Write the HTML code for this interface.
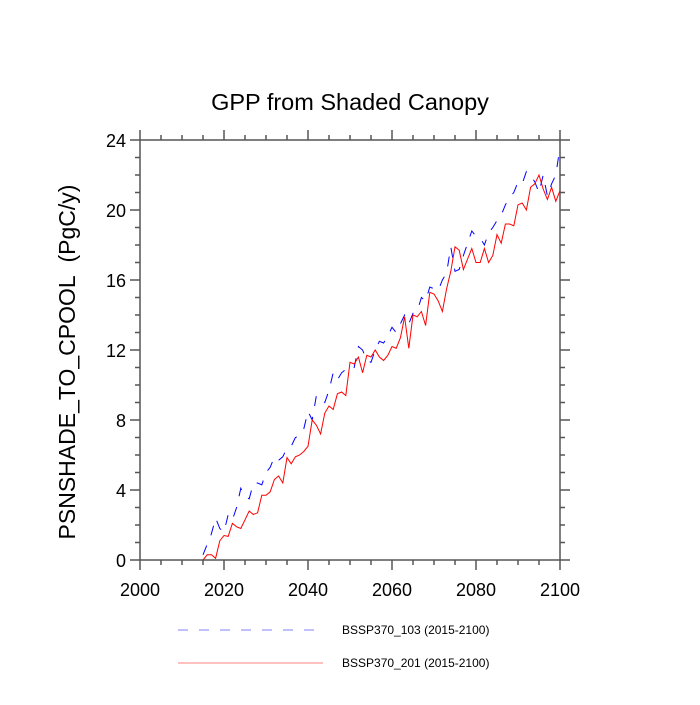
<!DOCTYPE html>
<html><head><meta charset="utf-8"><style>
body{margin:0;background:#fff;}
text{font-family:"Liberation Sans",sans-serif;fill:#000;}
</style></head><body>
<svg id="chart" width="700" height="700">
<text x="350" y="110" font-size="23.5" text-anchor="middle">GPP from Shaded Canopy</text>
<text transform="translate(75,362) rotate(-90)" font-size="23" text-anchor="middle">PSNSHADE_TO_CPOOL&#160;&#160;(PgC/y)</text>
<g id="axes"></g>
<g id="series"></g>
<g>
<line x1="178" y1="630" x2="318" y2="630" stroke="#8080ff" stroke-width="1" stroke-dasharray="10,11"/>
<text x="342" y="634" font-size="12">BSSP370_103 (2015-2100)</text>
<line x1="178" y1="663" x2="323" y2="663" stroke="#ff8080" stroke-width="1"/>
<text x="342" y="667" font-size="12">BSSP370_201 (2015-2100)</text>
</g>
</svg>
<script>
const startYear = 2015;
const blueValues = [0.3,0.9,1.5,2.4,1.8,1.6,2.6,2.3,3.0,4.1,3.6,3.5,4.4,4.4,4.3,5.0,5.3,5.9,5.7,5.9,6.4,6.5,7.0,7.1,7.5,8.5,8.0,9.4,9.3,9.0,9.7,10.7,10.3,10.7,10.9,10.8,11.0,12.2,12.0,11.4,11.3,12.0,12.5,12.4,12.8,13.3,13.0,13.5,14.0,13.5,14.1,14.2,15.0,14.8,15.6,15.5,15.4,16.0,16.4,17.9,16.5,16.6,17.4,18.1,18.8,18.5,18.4,18.0,18.7,19.0,19.4,19.7,20.3,20.7,21.0,21.6,21.5,22.2,22.0,21.6,21.0,22.0,20.8,21.5,22.0,23.6];
const redValues = [0,0.3,0.3,0.1,1.1,1.4,1.35,2.1,1.9,1.8,2.3,2.8,2.6,2.7,3.7,3.7,3.9,4.6,4.8,4.4,5.85,5.5,5.9,6.0,6.2,6.5,8.0,7.7,7.2,8.4,8.8,8.6,9.5,9.6,9.4,11.3,11.2,11.6,10.7,11.7,11.6,12.0,11.6,11.4,11.7,12.2,12.1,12.7,13.9,12.1,14.0,13.9,14.2,13.4,15.3,15.2,14.8,14.2,15.5,16.5,17.9,17.7,16.6,17.2,17.8,17.0,17.0,17.8,17.0,17.4,18.6,18.1,19.2,19.2,19.1,20.3,20.4,20.0,21.3,21.5,22.0,21.2,20.6,21.3,20.5,21.1];
const xTicks = [2000,2020,2040,2060,2080,2100];
const yTicks = [0,4,8,12,16,20,24];
const X0=140,X1=560,Y0=560,Y1=140;
function xs(v){return X0+(v-2000)/100*(X1-X0);}
function ys(v){return Y0-(v/24)*(Y0-Y1);}
const NS="http://www.w3.org/2000/svg";
const axes=document.getElementById('axes');
function mk(tag,attrs,parent){const e=document.createElementNS(NS,tag);for(const k in attrs)e.setAttribute(k,attrs[k]);parent.appendChild(e);return e;}
const frame=mk('rect',{x:X0,y:Y1,width:X1-X0,height:Y0-Y1,fill:'none',stroke:'#555','stroke-width':1.5},axes);


for(let v=2000;v<=2100;v+=5){
  const major=(v%20===0);const len=major?10:5;
  const x=xs(v);
  const t1=mk('line',{x1:x,y1:Y0,x2:x,y2:Y0+len,stroke:'#555','stroke-width':1.5},axes);
  
  
  const t2=mk('line',{x1:x,y1:Y1,x2:x,y2:Y1-len,stroke:'#555','stroke-width':1.5},axes);
  
  
}
xTicks.forEach(v=>{
  const t=mk('text',{x:xs(v),y:Y0+36,'font-size':18,'text-anchor':'middle'},axes);t.textContent=v;
  
  
});
for(let v=0;v<=24;v+=1){
  const major=(v%4===0);const len=major?10:5;const y=ys(v);
  const t1=mk('line',{x1:X0,y1:y,x2:X0-len,y2:y,stroke:'#555','stroke-width':1.5},axes);
  
  
  const t2=mk('line',{x1:X1,y1:y,x2:X1+len,y2:y,stroke:'#555','stroke-width':1.5},axes);
  
  
}
yTicks.forEach(v=>{
  const t=mk('text',{x:X0-14,y:ys(v)+7,'font-size':18,'text-anchor':'end'},axes);t.textContent=v;
  
  
});
const series=document.getElementById('series');
function pts(vals){return vals.map((v,i)=>xs(startYear+i).toFixed(1)+','+ys(v).toFixed(1)).join(' ');}
const pb=mk('polyline',{points:pts(blueValues),fill:'none',stroke:'#0000ff','stroke-width':1,'stroke-dasharray':'10,11'},series);


const pr=mk('polyline',{points:pts(redValues),fill:'none',stroke:'#ff0000','stroke-width':1},series);


</script>
</body></html>
